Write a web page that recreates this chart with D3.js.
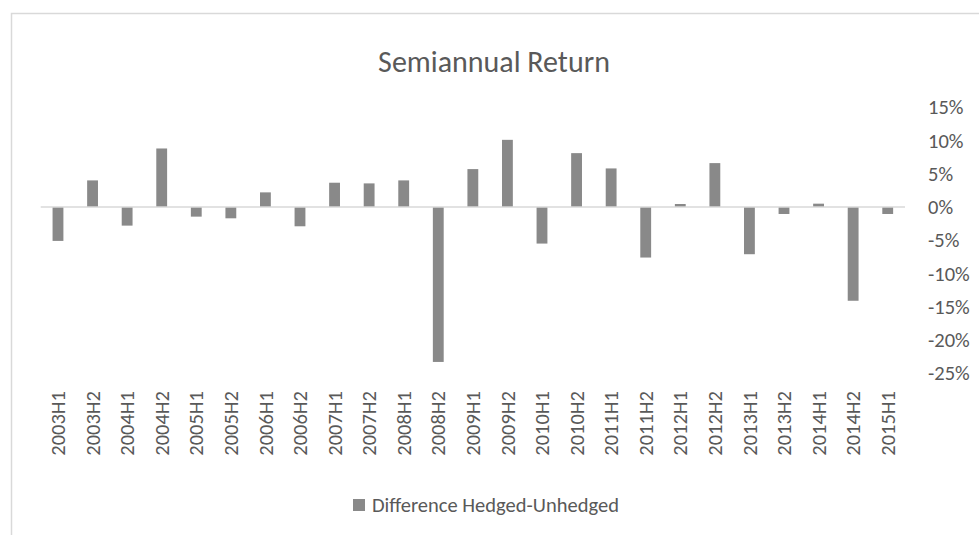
<!DOCTYPE html>
<html>
<head>
<meta charset="utf-8">
<script src="https://cdn.jsdelivr.net/npm/d3@7"></script>
<style>
  body { margin: 0; background: #fff; }
  svg { display: block; }
  text { font-family: Carlito, Calibri, Lato, sans-serif; fill: #595959; }
</style>
</head>
<body>
<div id="chart"></div>
<script>
const periods = [
  "2003H1", "2003H2", "2004H1", "2004H2", "2005H1", "2005H2", "2006H1", "2006H2",
  "2007H1", "2007H2", "2008H1", "2008H2", "2009H1", "2009H2", "2010H1", "2010H2",
  "2011H1", "2011H2", "2012H1", "2012H2", "2013H1", "2013H2", "2014H1", "2014H2", "2015H1"
];
// difference hedged - unhedged, in percent
const diffValues = [
  -5.1, 4.0, -2.8, 8.8, -1.45, -1.7, 2.2, -2.9,
  3.65, 3.55, 4.0, -23.3, 5.7, 10.1, -5.5, 8.1,
  5.8, -7.6, 0.45, 6.6, -7.1, -1.05, 0.5, -14.1, -1.05
];
const yTicks = [15, 10, 5, 0, -5, -10, -15, -20, -25];
const seriesName = "Difference Hedged-Unhedged";
const chartTitle = "Semiannual Return";

const width = 979, height = 535;
const plot = { left: 40.7, right: 905, top: 107.25, bottom: 373.25 };

const svg = d3.select("#chart").append("svg")
  .attr("width", width)
  .attr("height", height);

// chart area border (cropped at right and bottom)
svg.append("rect")
  .attr("x", 11.5).attr("y", 13.5)
  .attr("width", 1000).attr("height", 600)
  .attr("fill", "#fff")
  .attr("stroke", "#d9d9d9")
  .attr("stroke-width", 1.5);

svg.append("text")
  .attr("x", 494).attr("y", 72)
  .attr("text-anchor", "middle")
  .style("font-size", "30px")
  .text(chartTitle);

const x = d3.scaleBand()
  .domain(periods)
  .range([plot.left, plot.right])
  .paddingInner(0.6865)
  .paddingOuter(0.6865 / 2);

const y = d3.scaleLinear()
  .domain([-25, 15])
  .range([plot.bottom, plot.top]);

// bars
svg.append("g")
  .selectAll("rect")
  .data(periods)
  .join("rect")
  .attr("x", (d) => x(d))
  .attr("width", x.bandwidth())
  .attr("y", (d, i) => y(Math.max(0, diffValues[i])))
  .attr("height", (d, i) => Math.abs(y(diffValues[i]) - y(0)))
  .attr("fill", "#898989");

// zero line
svg.append("line")
  .attr("x1", plot.left).attr("x2", plot.right)
  .attr("y1", y(0)).attr("y2", y(0))
  .attr("stroke", "#d9d9d9")
  .attr("stroke-width", 1.5);

// right value axis
const yAxis = svg.append("g")
  .attr("transform", `translate(${plot.right},0)`)
  .call(d3.axisRight(y).tickValues(yTicks).tickSize(0).tickPadding(23)
    .tickFormat((d) => d + "%"));
yAxis.select(".domain").remove();
yAxis.selectAll("text")
  .attr("fill", null)
  .style("font-size", "20.5px");

// category labels, rotated
const xAxis = svg.append("g")
  .attr("transform", "translate(0,391)")
  .call(d3.axisBottom(x).tickSize(0));
xAxis.select(".domain").remove();
xAxis.selectAll("text")
  .attr("fill", null)
  .attr("x", 0).attr("y", 0)
  .attr("dy", "0.35em")
  .attr("transform", "rotate(-90)")
  .style("text-anchor", "end")
  .style("font-size", "20.5px");

// legend
const legend = svg.append("g");
legend.append("rect")
  .attr("x", 353).attr("y", 499)
  .attr("width", 12).attr("height", 12)
  .attr("fill", "#898989");
legend.append("text")
  .attr("x", 372).attr("y", 512)
  .style("font-size", "20.5px")
  .text(seriesName);
</script>
</body>
</html>
